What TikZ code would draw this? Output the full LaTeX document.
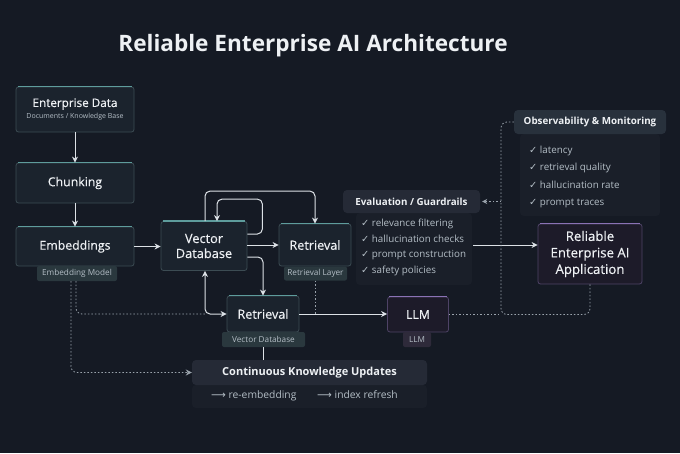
\documentclass[tikz,border=0pt]{standalone}
\usepackage{fontspec}
\setmainfont{Open Sans}
\newfontfamily\medfont{Open Sans}[FakeBold=0.4]
\newfontfamily\symfont{DejaVu Sans}
\usetikzlibrary{positioning, calc, arrows.meta}

\definecolor{bgcol}{HTML}{151A24}
\definecolor{boxfill}{HTML}{1B232D}
\definecolor{boxline}{HTML}{3C4C53}
\definecolor{tealtop}{HTML}{5E9C9C}
\definecolor{tagfill}{HTML}{2A383E}
\definecolor{purpfill}{HTML}{1D1B29}
\definecolor{purpline}{HTML}{4E4366}
\definecolor{purptop}{HTML}{8A72B5}
\definecolor{purptag}{HTML}{2E2A3A}
\definecolor{headfill}{HTML}{252A36}
\definecolor{panelfill}{HTML}{1A1F29}
\definecolor{linecol}{HTML}{DCE1E6}
\definecolor{dotcol}{HTML}{9AA3AC}
\definecolor{txtmain}{HTML}{EEF1F4}
\definecolor{txtsub}{HTML}{B4BEC6}

\begin{document}
\begin{tikzpicture}[x=1pt, y=-1pt,
    box/.style={draw=boxline, fill=boxfill, rounded corners=2.5pt, line width=0.8pt,
        text=txtmain, font=\medfont\fontsize{12.3}{15}\selectfont, align=center, inner sep=0pt},
    llmbox/.style={box, draw=purpline, fill=purpfill},
    tag/.style={fill=tagfill, rounded corners=2pt, text=txtsub,
        font=\fontsize{8.2}{9}\selectfont, inner sep=0pt},
    head/.style={fill=headfill, rounded corners=4pt, text=txtmain,
        font=\fontsize{9.8}{11}\selectfont\bfseries, inner sep=0pt},
    panel/.style={fill=panelfill, rounded corners=4pt},
    item/.style={text=txtsub, font=\fontsize{9.8}{11}\selectfont, anchor=base west, inner sep=0pt},
    topline/.style={line width=1.6pt, draw=tealtop},
    flow/.style={draw=linecol, line width=1pt, -{Stealth[length=6pt,width=6pt]}},
    dots/.style={draw=dotcol, line width=0.8pt, dash pattern=on 1.5pt off 2pt}]

    % the background
    \fill[bgcol] (0,0) rectangle (680,453);
    \useasboundingbox (0,0) rectangle (680,453);

    \node[text=txtmain, font=\fontsize{22.6}{26}\selectfont\bfseries] (title) at (313,46)
        {Reliable Enterprise AI Architecture};

    % ingestion column
    \node[box, font=\medfont\fontsize{11.7}{14}\selectfont, minimum width=118pt, minimum height=45pt] (ent)
        at (75,109.5)
        {Enterprise Data\\[-2pt]{\normalfont\fontsize{7}{8}\selectfont\color{txtsub}Documents / Knowledge Base}};
    \node[box, minimum width=118pt, minimum height=40pt] (chunk) at (75,183) {Chunking};
    \node[box, minimum width=118pt, minimum height=39pt] (emb) at (75,246.5) {Embeddings};
    \node[tag, minimum width=80pt, minimum height=15pt] (embtag) at (77,273.5) {Embedding Model};

    % vector database and retrieval
    \node[box, font=\medfont\fontsize{12.8}{15}\selectfont, minimum width=86pt, minimum height=49pt] (vdb)
        at (204,246) {Vector\\Database};
    \node[box, font=\medfont\fontsize{12.6}{15}\selectfont, minimum width=72pt, minimum height=42pt] (rettop)
        at (315,245) {Retrieval};
    \node[tag, minimum width=63pt, minimum height=14pt] (rettag) at (315.5,273.5) {Retrieval Layer};
    \node[box, font=\medfont\fontsize{12.6}{15}\selectfont, minimum width=72pt, minimum height=36pt] (retbot)
        at (263,314) {Retrieval};
    \node[tag, minimum width=83pt, minimum height=15pt] (rbtag) at (263.5,339.5) {Vector Database};

    % llm and application
    \node[llmbox, minimum width=61pt, minimum height=35pt] (llm) at (418,314.5) {LLM};
    \node[tag, fill=purptag, minimum width=28pt, minimum height=15pt] (llmtag) at (417,339.5) {LLM};
    \node[llmbox, font=\medfont\fontsize{13.2}{16.5}\selectfont, minimum width=104pt, minimum height=60pt] (app)
        at (590,254) {Reliable\\Enterprise AI\\Application};

    \foreach \n in {ent,chunk,emb,vdb,rettop,retbot}
        \draw[topline] ([xshift=2pt]\n.north west) -- ([xshift=-2pt]\n.north east);
    \foreach \n in {llm,app}
        \draw[topline, draw=purptop] ([xshift=2pt]\n.north west) -- ([xshift=-2pt]\n.north east);

    % evaluation / guardrails
    \fill[panel] (356,213) rectangle (472,285);
    \node[head, minimum width=137pt, minimum height=23pt] (evalhead) at (411.5,201.5)
        {Evaluation / Guardrails};
    \foreach \t [count=\i] in {relevance filtering, hallucination checks,
            prompt construction, safety policies}
        \node[item] (eval\i) at (361,210.8+15.7*\i) {{\symfont ✓}\ \t};

    % observability
    \fill[panel] (520,134) rectangle (660,216);
    \node[head, fill=headfill!85!tealtop!40!headfill, minimum width=152pt, minimum height=24pt] (obshead)
        at (590,122) {Observability \& Monitoring};
    \foreach \t [count=\i] in {latency, retrieval quality, hallucination rate, prompt traces}
        \node[item] (obs\i) at (529,136.2+17.3*\i) {{\symfont ✓}\ \t};

    % knowledge updates
    \fill[panel] (192,385) rectangle (427,408);
    \node[head, font=\fontsize{11}{13}\selectfont\bfseries, minimum width=235pt, minimum height=25pt]
        (updhead) at (309.5,372.5) {Continuous Knowledge Updates};
    \node[item, font=\fontsize{10.3}{12}\selectfont] (upd1) at (211,398.5) {{\symfont ⟶}\ re-embedding};
    \node[item, font=\fontsize{10.3}{12}\selectfont] (upd2) at (317,398.5) {{\symfont ⟶}\ index refresh};

    % main flow
    \draw[flow] (ent) -- (chunk);
    \draw[flow] (chunk) -- (emb);
    \draw[flow] (emb.east) -- (emb.east -| vdb.west);
    \draw[flow] (vdb.east |- rettop) -- (rettop.west);
    \draw[flow, rounded corners=5pt] ($(vdb.north)+(1,0)$) -- ++(0,-30) -| (rettop.north);
    \draw[flow, rounded corners=5pt] ($(vdb.east)+(0,-12)$) -| ($(vdb.north east)+(15,-22)$)
        -| ($(vdb.north)+(13,0)$);
    \draw[flow, rounded corners=5pt] ($(vdb.east)+(0,11)$) -| (retbot.north);
    \coordinate (bend) at ($(vdb.south)+(1,0)$);
    \draw[flow, {Stealth[length=6pt,width=6pt]}-{Stealth[length=6pt,width=6pt]}, rounded corners=5pt]
        (bend) |- (retbot.west);
    \draw[flow] (retbot.east) -- (retbot.east -| llm.west);
    \coordinate (evalout) at (473,245);
    \draw[flow] (evalout) -- (evalout -| app.west);
    \draw[draw=linecol, line width=1pt] (rbtag.south) -- (rbtag.south |- updhead.north);

    % dotted feedback lines
    \draw[dots, rounded corners=6pt] ($(embtag.south)+(-1,0)$) |- (bend |- retbot.west);
    \draw[dots, rounded corners=6pt, -{Stealth[length=6pt,width=6pt]}]
        ($(embtag.south)+(-6,0)$) |- (updhead.west);
    \draw[dots] (rettag.south) -- (rettag.south |- retbot.east);
    \coordinate (trunk) at (501,314.5);
    \draw[dots] (llm.east) -- (trunk);
    \draw[dots, rounded corners=6pt] (obshead.west) -| (trunk) -| (app.south);
    \draw[dots, -{Stealth[length=5pt,width=5pt]}] (trunk |- evalhead.east) -- ([xshift=2pt]evalhead.east);
\end{tikzpicture}
\end{document}
